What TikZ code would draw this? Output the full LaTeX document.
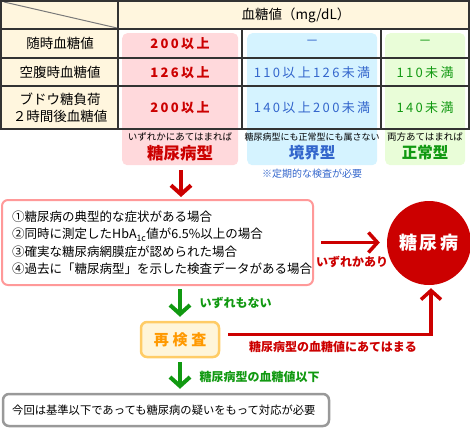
\documentclass[tikz,border=0pt]{standalone}
\usepackage{fontspec}
\setmainfont{Noto Sans CJK JP}
\usetikzlibrary{arrows.meta}
\definecolor{cream}{HTML}{FFF6DE}
\definecolor{pinkfill}{HTML}{FFD9DC}
\definecolor{bluefill}{HTML}{D5F3FF}
\definecolor{greenfill}{HTML}{E9FDD8}
\definecolor{dred}{HTML}{CC0000}
\definecolor{dblue}{HTML}{3366CC}
\definecolor{dgreen}{HTML}{119911}
\definecolor{otext}{HTML}{FF9900}
\definecolor{oborder}{HTML}{FFCC66}
\definecolor{ofill}{HTML}{FFF5D9}
\definecolor{pborder}{HTML}{FF9999}
\definecolor{gborder}{HTML}{999999}
\definecolor{tline}{HTML}{333333}
\begin{document}
\begin{tikzpicture}[x=1pt,y=-1pt,
  tl/.style={draw=tline,line width=1.3pt},
  colbox/.style={rounded corners=5pt,inner sep=0pt,anchor=north west},
  rowlab/.style={font=\fontsize{13.5}{17}\selectfont,align=center,text=black},
  val/.style={font=\fontsize{13}{15}\selectfont\addfontfeature{LetterSpace=18}},
  valb/.style={font=\fontsize{13}{15}\selectfont\bfseries\addfontfeature{LetterSpace=18}},
  smalllab/.style={font=\fontsize{9.5}{11}\selectfont},
  typelab/.style={font=\fontsize{15.5}{17}\selectfont\bfseries},
  flowlab/.style={font=\fontsize{12}{14}\selectfont\bfseries},
  redarr/.style={draw=dred,line width=4pt,-{Straight Barb[length=9pt,width=20pt]}},
  greenarr/.style={draw=dgreen,line width=4pt,-{Straight Barb[length=9pt,width=20pt]}},
  ]
\useasboundingbox (0,0) rectangle (470,428);
% table backgrounds
\fill[cream] (1,1) rectangle (469,29);
\fill[cream] (1,29) rectangle (118,129);
\node[colbox,fill=pinkfill,minimum width=116pt,minimum height=132pt] (pinkcol) at (122,33) {};
\node[colbox,fill=bluefill,minimum width=130pt,minimum height=132pt] (bluecol) at (247,33) {};
\node[colbox,fill=greenfill,minimum width=80pt,minimum height=132pt] (greencol) at (385,33) {};
% diagonal
\draw[gborder!80!black,line width=1pt] (4,2) -- (117,28);
% table lines
\draw[tl] (1,1) rectangle (469,129);
\draw[tl] (1,29) -- (469,29);
\draw[tl] (1,58) -- (469,58);
\draw[tl] (1,86) -- (469,86);
\draw[tl] (118,1) -- (118,129);
\draw[tl] (242,29) -- (242,129);
\draw[tl] (381,29) -- (381,129);
% header
\node[rowlab] (hdr) at (296,15) {血糖値（mg/dL）};
\node[rowlab] (r1) at (60,43.5) {随時血糖値};
\node[rowlab] (r2) at (60,72) {空腹時血糖値};
\node[rowlab] (r3) at (60,108) {ブドウ糖負荷\\２時間後血糖値};
% values
\node[valb,text=dred] (v11) at (180,44) {200以上};
\node[valb,text=dred] (v21) at (180,72.5) {126以上};
\node[valb,text=dred] (v31) at (180,108) {200以上};
\node[val,text=dblue] (v12) at (312,43) {－};
\node[val,text=dblue] (v22) at (312,72.5) {110以上126未満};
\node[val,text=dblue] (v32) at (312,108) {140以上200未満};
\node[val,text=dgreen] (v13) at (425,43) {－};
\node[val,text=dgreen] (v23) at (425,72.5) {110未満};
\node[val,text=dgreen] (v33) at (425,108) {140未満};
% type labels
\node[smalllab] (s1) at (180,137) {いずれかにあてはまれば};
\node[smalllab,font=\fontsize{9}{11}\selectfont] (s2) at (312,137) {糖尿病型にも正常型にも属さない};
\node[smalllab] (s3) at (425,137) {両方あてはまれば};
\node[typelab,text=dred,font=\fontsize{16.5}{18}\selectfont\bfseries] (t1) at (180,153) {糖尿病型};
\node[typelab,text=dblue] (t2) at (312,153) {境界型};
\node[typelab,text=dgreen] (t3) at (425,153) {正常型};
\node[smalllab,text=dblue,font=\fontsize{10}{12}\selectfont] (note) at (312,174) {※定期的な検査が必要};
% criteria box
\node[draw=pborder,line width=2pt,rounded corners=6pt,fill=white,minimum width=311pt,minimum height=85pt,inner sep=0pt] (crit) at (157.5,242.5) {};
\node[anchor=west,align=left,font=\fontsize{12.5}{17.5}\selectfont,inner sep=0pt] (crittext) at (12,243) {①糖尿病の典型的な症状がある場合\\②同時に測定したHbA\textsubscript{1c}値が6.5\%以上の場合\\③確実な糖尿病網膜症が認められた場合\\④過去に「糖尿病型」を示した検査データがある場合};
% diabetes circle
\node[circle,fill=dred,minimum size=84pt,inner sep=0pt,text=white,font=\fontsize{18}{20}\selectfont\bfseries\addfontfeature{LetterSpace=12}] (dm) at (429,243) {糖尿病};
% retest
\node[draw=oborder,line width=2.5pt,rounded corners=6pt,fill=ofill,minimum width=78pt,minimum height=35pt,inner sep=0pt,text=otext,font=\fontsize{15}{17}\selectfont\bfseries\addfontfeature{LetterSpace=25}] (retest) at (180,339.5) {再検査};
% bottom box
\node[draw=gborder,line width=2.5pt,rounded corners=6pt,fill=white,minimum width=326pt,minimum height=32pt,inner sep=0pt] (final) at (166,410) {};
\node[anchor=west,inner sep=0pt,font=\fontsize{11.3}{13}\selectfont] (finaltext) at (12,410) {今回は基準以下であっても糖尿病の疑いをもって対応が必要};
% arrows
\draw[redarr,line width=4pt] (181,170) -- (181,197);
\draw[redarr,line width=3.5pt,shorten <=7pt,shorten >=7pt] (crit.east) -- (crit.east -| dm.west);
\node[flowlab,text=dred] (l1) at (352,262) {いずれかあり};
\draw[greenarr,shorten <=3pt,shorten >=4pt] (crit.south -| retest.north) -- (retest.north);
\node[flowlab,text=dgreen,anchor=west] (l2) at (196,303) {いずれもない};
\draw[greenarr,shorten <=4pt,shorten >=4pt] (retest.south) -- (final.north -| retest.south);
\node[flowlab,text=dgreen,anchor=west] (l3) at (196,377) {糖尿病型の血糖値以下};
\coordinate (rl) at ([xshift=8pt,yshift=5pt]retest.east);
\draw[redarr,line width=3.5pt,shorten >=3pt] (rl) -| ([xshift=2pt]dm.south);
\node[flowlab,text=dred] (l4) at (333,347) {糖尿病型の血糖値にあてはまる};
\end{tikzpicture}
\end{document}
